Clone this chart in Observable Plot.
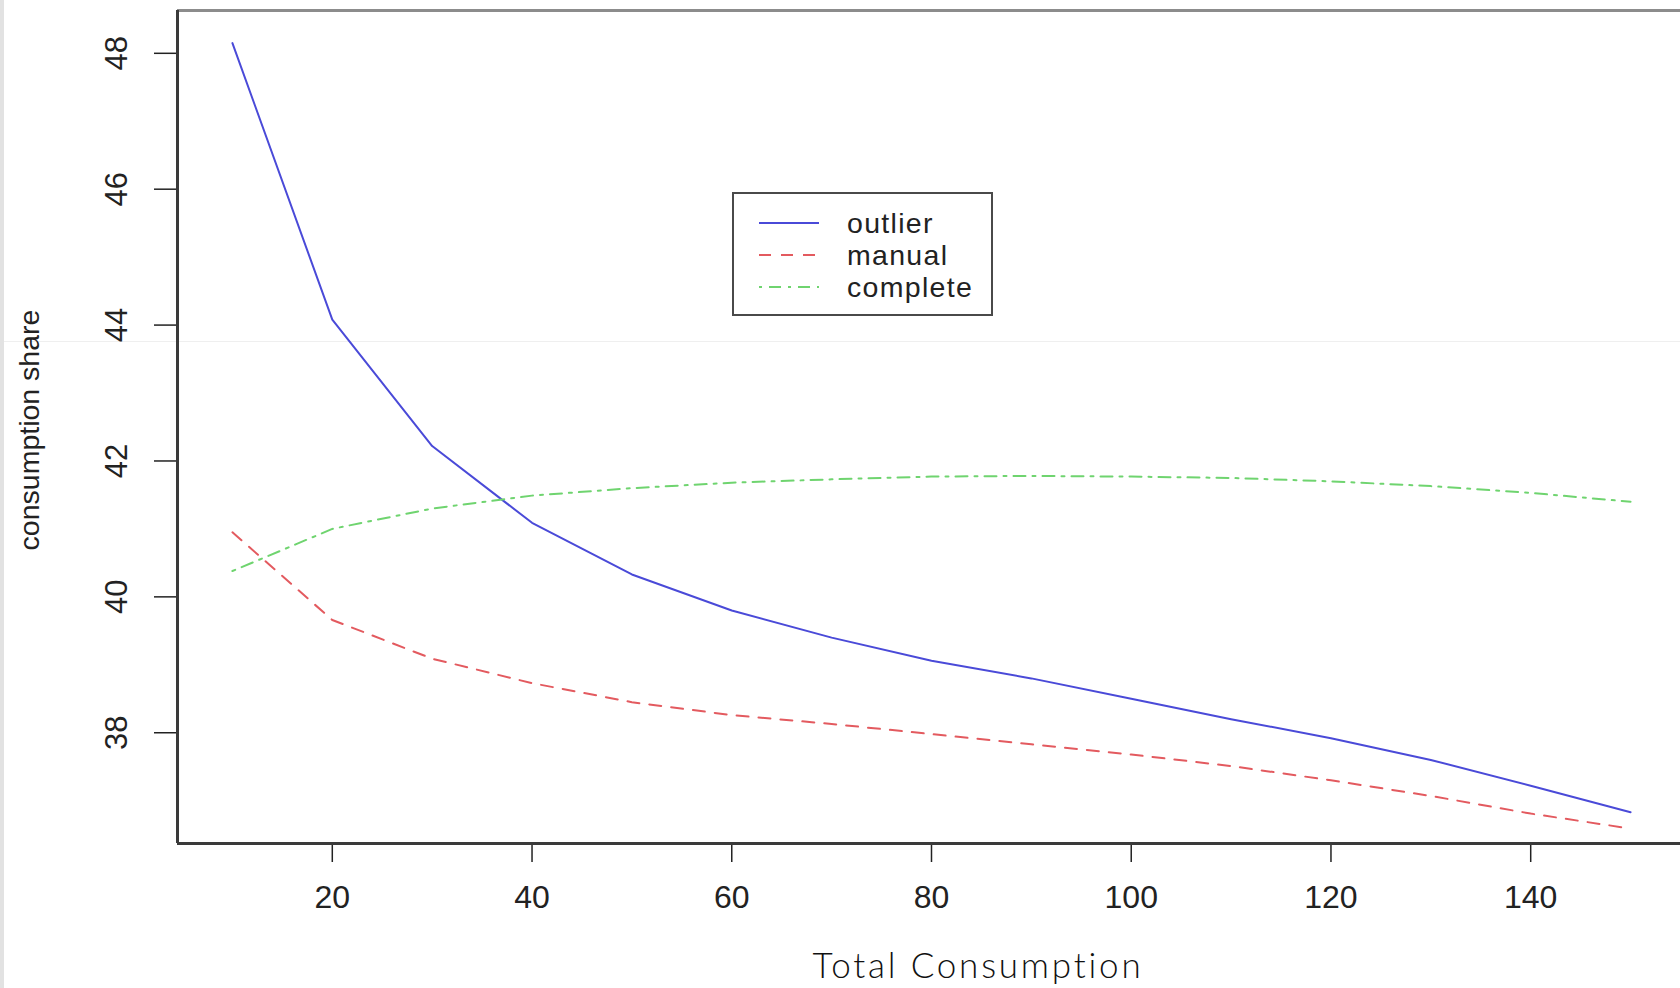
<!DOCTYPE html>
<html>
<head>
<meta charset="utf-8">
<script src="https://cdn.jsdelivr.net/npm/d3@7"></script>
<script src="https://cdn.jsdelivr.net/npm/@observablehq/plot@0.6"></script>
<style>
  html, body { margin: 0; padding: 0; background: #fff; }
  #wrap { position: relative; width: 1680px; height: 988px; overflow: hidden; background: #fff; }
  #strip { position: absolute; left: 0; top: 0; width: 4px; height: 988px; background: #e2e2e2; }
  #seam { position: absolute; left: 0; top: 341px; width: 1680px; height: 1px; background: #efefef; }
  #chart { position: absolute; left: 0; top: 0; }
  #legend { position: absolute; left: 732px; top: 192px; width: 261px; height: 124px; box-sizing: border-box;
            border: 2px solid #4a4a4a; background: #fff; font-family: "Liberation Sans", Arial, sans-serif; }
  #legend .row { position: absolute; left: 0; height: 28px; width: 100%; }
  #legend .lab { position: absolute; left: 113px; top: 0; font-size: 28.5px; letter-spacing: 1.3px; line-height: 28px; height: 28px; color: #222; white-space: nowrap; }
  #legend svg { position: absolute; left: 25px; top: 0; }
</style>
</head>
<body>
<div id="wrap">
  <div id="seam"></div>
  <div id="chart"></div>
  <div id="strip"></div>
  <div id="legend"></div>
</div>
<script>
// ---- data ----
const totalConsumption = [10, 20, 30, 40, 50, 60, 70, 80, 90, 100, 110, 120, 130, 140, 150];
const outlier  = [48.15, 44.08, 42.22, 41.09, 40.33, 39.80, 39.40, 39.06, 38.80, 38.50, 38.20, 37.92, 37.60, 37.22, 36.83];
const manual   = [40.95, 39.66, 39.09, 38.73, 38.45, 38.26, 38.13, 37.98, 37.83, 37.68, 37.51, 37.30, 37.07, 36.81, 36.59];
const complete = [40.38, 41.00, 41.30, 41.49, 41.60, 41.68, 41.73, 41.77, 41.78, 41.77, 41.75, 41.70, 41.63, 41.53, 41.40];
const seriesNames = ["outlier", "manual", "complete"];
const xTicks = [20, 40, 60, 80, 100, 120, 140];
const yTicks = [38, 40, 42, 44, 46, 48];
const xLabel = "Total Consumption";
const yLabel = "consumption share";

// ---- styles ----
const colors = {outlier: "#4a4ad8", manual: "#e35a5f", complete: "#6fd46f"};
const dashes = {outlier: null, manual: "12,10", complete: "3,7,12,7"};
const xDomain = [4.5, 155];
const yDomain = [36.37, 48.63];

const valuesBySeries = {outlier, manual, complete};
const rows = seriesNames.flatMap(s => totalConsumption.map((x, i) => ({series: s, x, y: valuesBySeries[s][i]})));

const chart = Plot.plot({
  width: 1680,
  height: 988,
  marginLeft: 177,
  marginRight: 0,
  marginTop: 10,
  marginBottom: 145,
  x: {domain: xDomain},
  y: {domain: yDomain},
  style: {background: "transparent", fontFamily: "'Liberation Sans', Arial, sans-serif", fontSize: "32px", color: "#222", overflow: "visible"},
  marks: [
    Plot.axisX({ticks: xTicks, tickSize: 19, tickPadding: 23, label: null, fontSize: 32, color: "#222", strokeWidth: 1.5}),
    Plot.axisY({ticks: yTicks, tickSize: 23, tickFormat: () => "", label: null, color: "#222", strokeWidth: 1.5}),
    Plot.text(yTicks, {y: d => d, text: d => String(d), frameAnchor: "left", rotate: -90, dx: -60,
      textAnchor: "middle", lineAnchor: "middle", fontSize: 31, fill: "#222"}),
    ...seriesNames.map(s => Plot.line(rows.filter(r => r.series === s), {
      x: "x", y: "y", stroke: colors[s], strokeWidth: 2, strokeDasharray: dashes[s] ?? undefined
    })),
    Plot.ruleY([yDomain[1]], {stroke: "#8c8c8c", strokeWidth: 3}),
    Plot.ruleY([yDomain[0]], {stroke: "#3a3a3a", strokeWidth: 3}),
    Plot.ruleX([xDomain[0]], {stroke: "#3a3a3a", strokeWidth: 3}),
    Plot.text([yLabel], {text: d => d, frameAnchor: "left", rotate: -90, dx: -148, dy: 3, textAnchor: "middle",
      lineAnchor: "middle", fontSize: 28.5, fill: "#222"}),
    Plot.text([xLabel], {text: d => d, frameAnchor: "bottom", dx: 49, dy: 123, textAnchor: "middle",
      lineAnchor: "middle", fontSize: 35, fontWeight: 300, fill: "#111",
      fontFamily: "Lato, 'Open Sans', sans-serif"})
  ]
});
// Plot.text has no letterSpacing option; apply it to the x title text
d3.select(chart).selectAll("text").filter(function() { return this.textContent === xLabel; })
  .style("letter-spacing", "2.8px");
document.getElementById("chart").appendChild(chart);

// ---- legend ----
const legend = document.getElementById("legend");
seriesNames.forEach((s, i) => {
  const row = document.createElement("div");
  row.className = "row";
  row.style.top = (15 + i * 32) + "px";
  const ns = "http://www.w3.org/2000/svg";
  const svg = document.createElementNS(ns, "svg");
  svg.setAttribute("width", 62);
  svg.setAttribute("height", 28);
  const line = document.createElementNS(ns, "line");
  line.setAttribute("x1", 0); line.setAttribute("x2", 60);
  line.setAttribute("y1", 14); line.setAttribute("y2", 14);
  line.setAttribute("stroke", colors[s]);
  line.setAttribute("stroke-width", 2);
  if (dashes[s]) line.setAttribute("stroke-dasharray", dashes[s]);
  svg.appendChild(line);
  row.appendChild(svg);
  const lab = document.createElement("span");
  lab.className = "lab";
  lab.textContent = s;
  row.appendChild(lab);
  legend.appendChild(row);
});
</script>
</body>
</html>
